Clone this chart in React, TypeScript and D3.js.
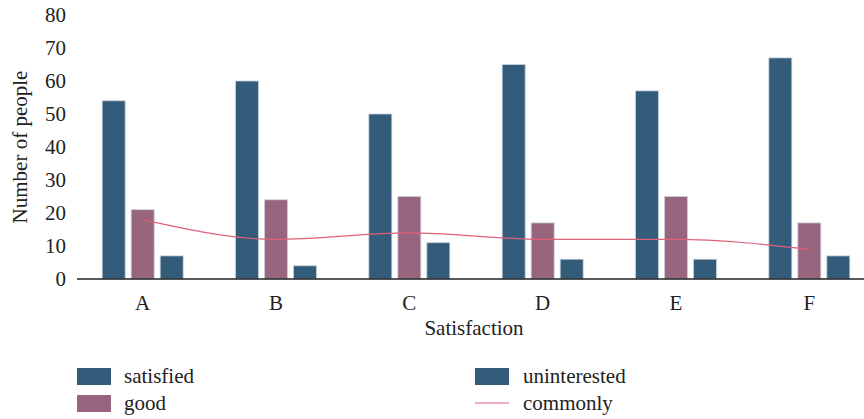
import React from "react";
import * as d3 from "d3";

const categories = ["A", "B", "C", "D", "E", "F"];
const satisfied = [54, 60, 50, 65, 57, 67];
const good = [21, 24, 25, 17, 25, 17];
const uninterested = [7, 4, 11, 6, 6, 7];
const commonly = [18, 12, 14, 12, 12, 9];
const yTicks = [0, 10, 20, 30, 40, 50, 60, 70, 80];

const W = 864;
const H = 419;
const FONT = "'Liberation Serif', 'Times New Roman', serif";
const C_SAT = "#335b7a";
const C_GOOD = "#98657f";
const C_UNI = "#335b7a";
const C_LINE = "#e0607a";
const FS = 21;

export default function App() {
  const x = d3.scaleBand<string>().domain(categories).range([76, 876]).paddingInner(0).paddingOuter(0);
  const y = d3.scaleLinear().domain([0, 80]).range([279, 15]);
  const barW = 23;
  const gap = 6;
  const series = [
    { name: "satisfied", values: satisfied, color: C_SAT },
    { name: "good", values: good, color: C_GOOD },
    { name: "uninterested", values: uninterested, color: C_UNI },
  ];
  const cx = (c: string) => (x(c) as number) + x.bandwidth() / 2;
  const line = d3
    .line<number>()
    .x((_, i) => cx(categories[i]))
    .y((d) => y(d))
    .curve(d3.curveMonotoneX);

  return (
    <svg width={W} height={H} style={{ position: "absolute", left: 0, top: 0 }} fontFamily={FONT}>
      <rect width={W} height={H} fill="#fff" />
      {yTicks.map((t) => (
        <text key={t} x={66} y={y(t)} dy="0.35em" textAnchor="end" fontSize={FS} fill="#222">
          {t}
        </text>
      ))}
      {series.map((s, si) =>
        s.values.map((v, i) => {
          const c = categories[i];
          const x0 = cx(c) - (3 * barW + 2 * gap) / 2 + si * (barW + gap);
          return (
            <rect
              key={s.name + i}
              x={x0}
              y={y(v)}
              width={barW}
              height={y(0) - y(v)}
              fill={s.color}
              stroke="#c9d3dc"
              strokeWidth={0.8}
            />
          );
        })
      )}
      <line x1={77} x2={W} y1={y(0)} y2={y(0)} stroke="#222" strokeWidth={1.5} />
      <path d={line(commonly) || ""} fill="none" stroke={C_LINE} strokeWidth={1.2} />
      {categories.map((c) => (
        <text key={c} x={cx(c)} y={303} dy="0.35em" textAnchor="middle" fontSize={FS} fill="#222">
          {c}
        </text>
      ))}
      <text x={474} y={328} dy="0.35em" textAnchor="middle" fontSize={FS} fill="#222">
        Satisfaction
      </text>
      <text
        transform={`translate(20,147) rotate(-90)`}
        dy="0.35em"
        textAnchor="middle"
        fontSize={FS}
        fill="#222"
      >
        Number of people
      </text>
      {/* legend */}
      <rect x={77} y={368} width={34} height={17} fill={C_SAT} />
      <text x={124} y={376} dy="0.35em" fontSize={FS} fill="#222">satisfied</text>
      <rect x={77} y={395} width={34} height={17} fill={C_GOOD} />
      <text x={124} y={403} dy="0.35em" fontSize={FS} fill="#222">good</text>
      <rect x={475} y={368} width={34} height={17} fill={C_UNI} />
      <text x={523} y={376} dy="0.35em" fontSize={FS} fill="#222">uninterested</text>
      <line x1={475} x2={509} y1={403} y2={403} stroke={C_LINE} strokeWidth={1.2} />
      <text x={523} y={403} dy="0.35em" fontSize={FS} fill="#222">commonly</text>
    </svg>
  );
}
